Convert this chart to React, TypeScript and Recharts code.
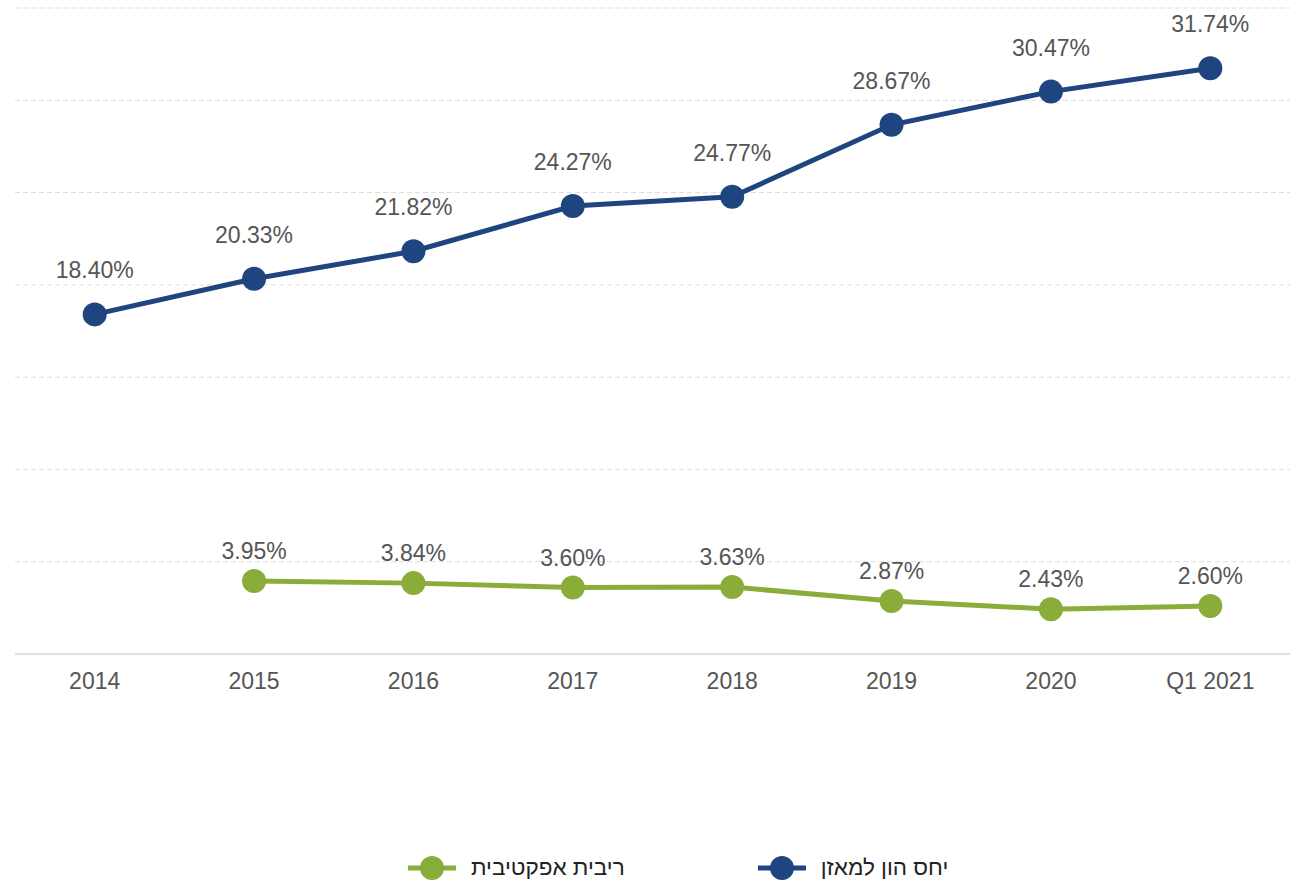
import { CartesianGrid, Line, LineChart, XAxis, YAxis } from "recharts";

const periods = ["2014", "2015", "2016", "2017", "2018", "2019", "2020", "Q1 2021"];
const capitalRatio = [18.4, 20.33, 21.82, 24.27, 24.77, 28.67, 30.47, 31.74];
const effectiveRate = [null, 3.95, 3.84, 3.6, 3.63, 2.87, 2.43, 2.6];
const yTicks = [0, 5, 10, 15, 20, 25, 30, 35];

const data = periods.map((p, i) => ({
  period: p,
  capital: capitalRatio[i],
  rate: effectiveRate[i],
}));

const NAVY = "#1f4580";
const GREEN = "#8aad39";
const FONT = "'Liberation Sans', Arial, sans-serif";

function makeLabel(offset: number) {
  return (props: any) => {
    const { x, y, value } = props;
    if (value == null) return null;
    return (
      <text
        x={x}
        y={y - offset}
        textAnchor="middle"
        fill="#555"
        fontSize={23}
        fontFamily={FONT}
      >
        {value.toFixed(2) + "%"}
      </text>
    );
  };
}

function LegendItem({ color, label }: { color: string; label: string }) {
  return (
    <div style={{ display: "flex", alignItems: "center", gap: 15 }}>
      <svg width={48} height={26}>
        <line x1={0} y1={13} x2={48} y2={13} stroke={color} strokeWidth={5} />
        <circle cx={24} cy={13} r={12} fill={color} />
      </svg>
      <span style={{ fontSize: 22.5, color: "#222", fontFamily: FONT }} dir="rtl">
        {label}
      </span>
    </div>
  );
}

export default function App() {
  return (
    <div style={{ position: "fixed", left: 0, top: 0, width: 1295, height: 882, background: "#fff" }}>
      <LineChart
        width={1295}
        height={720}
        data={data}
        margin={{ top: 8, right: 5, left: 15, bottom: 26 }}
      >
        <CartesianGrid vertical={false} stroke="#ddd" strokeDasharray="5 3" />
        <XAxis
          dataKey="period"
          scale="band"
          tickLine={false}
          axisLine={{ stroke: "#ccc", strokeWidth: 1 }}
          tick={{ fill: "#555", fontSize: 23, fontFamily: FONT }}
          tickMargin={13}
          height={40}
        />
        <YAxis hide domain={[0, 35]} ticks={yTicks} />
        <Line
          type="linear"
          dataKey="capital"
          stroke={NAVY}
          strokeWidth={5}
          dot={{ r: 12, fill: NAVY, stroke: "none" }}
          activeDot={false}
          label={makeLabel(36)}
          isAnimationActive={false}
        />
        <Line
          type="linear"
          dataKey="rate"
          stroke={GREEN}
          strokeWidth={5}
          dot={{ r: 12, fill: GREEN, stroke: "none" }}
          activeDot={false}
          label={makeLabel(22)}
          isAnimationActive={false}
        />
      </LineChart>
      <div
        style={{
          position: "absolute",
          top: 855,
          left: 408,
          display: "flex",
          gap: 133,
        }}
      >
        <LegendItem color={GREEN} label="ריבית אפקטיבית" />
        <LegendItem color={NAVY} label="יחס הון למאזן" />
      </div>
    </div>
  );
}
